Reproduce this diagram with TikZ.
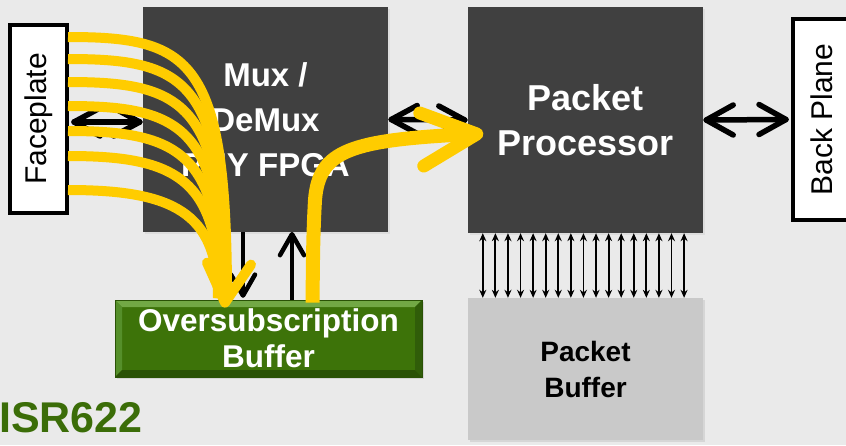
\documentclass[tikz,border=0pt]{standalone}
\usepackage{fontspec}
\setmainfont{Liberation Sans}
\usetikzlibrary{arrows.meta,shadows,calc}

\definecolor{bg}{HTML}{EAEAEA}
\definecolor{chipgray}{HTML}{404040}
\definecolor{bufgray}{HTML}{C9C9C9}
\definecolor{gface}{HTML}{3D7309}
\definecolor{gtop}{HTML}{72A845}
\definecolor{gleft}{HTML}{558F2A}
\definecolor{gright}{HTML}{305D09}
\definecolor{gbot}{HTML}{2A5206}
\definecolor{isrgreen}{HTML}{3B6D08}
\definecolor{flow}{HTML}{FFCC00}

\begin{document}
\begin{tikzpicture}[x=1pt,y=-1pt,
  port/.style={draw=black, line width=4pt, fill=white, inner sep=0pt,
    font=\fontsize{30}{36}\selectfont},
  chip/.style={fill=chipgray, text=white, inner sep=0pt, align=center,
    font=\fontsize{33}{45}\selectfont\bfseries,
    drop shadow={shadow xshift=2pt, shadow yshift=-2pt, opacity=0.12}},
  membuf/.style={fill=bufgray, text=black, inner sep=0pt, align=center,
    font=\fontsize{28}{36}\selectfont\bfseries,
    drop shadow={shadow xshift=1.5pt, shadow yshift=-2pt, opacity=0.18}},
  bevel/.style={fill=gface, draw=gbot, line width=0.8pt, text=white,
    inner sep=0pt, align=center, font=\fontsize{31.5}{36}\selectfont\bfseries,
    drop shadow={shadow xshift=1.5pt, shadow yshift=-2pt, opacity=0.2},
    path picture={
      \fill[gtop] (path picture bounding box.north west) -- (path picture bounding box.north east)
        -- ([shift={(-7,7)}]path picture bounding box.north east) -- ([shift={(7,7)}]path picture bounding box.north west) -- cycle;
      \fill[gleft] (path picture bounding box.north west) -- ([shift={(7,7)}]path picture bounding box.north west)
        -- ([shift={(7,-7)}]path picture bounding box.south west) -- (path picture bounding box.south west) -- cycle;
      \fill[gright] (path picture bounding box.north east) -- ([shift={(-7,7)}]path picture bounding box.north east)
        -- ([shift={(-7,-7)}]path picture bounding box.south east) -- (path picture bounding box.south east) -- cycle;
      \fill[gbot] (path picture bounding box.south west) -- ([shift={(7,-7)}]path picture bounding box.south west)
        -- ([shift={(-7,-7)}]path picture bounding box.south east) -- (path picture bounding box.south east) -- cycle;
    }},
  link/.style={line width=5.5pt, line cap=round, line join=round},
  tap/.style={line width=4.5pt, line cap=round, line join=round},
  lane/.style={line width=1.8pt, {Stealth[length=8pt,width=7pt]}-{Stealth[length=8pt,width=7pt]}},
  flowthin/.style={draw=flow, line width=10pt},
  flowthick/.style={draw=flow, line width=14pt},
  chevron/.style={draw=flow, line cap=round, line join=round}
]
% canvas
\fill[bg] (0,0) rectangle (846,445);
\useasboundingbox (0,0) rectangle (846,445);

% blocks
\node[port, minimum width=57pt, minimum height=188pt] (fp) at (38.5,119) {\rotatebox{90}{Faceplate}};
\node[port, minimum width=58pt, minimum height=201pt] (bp) at (822,119.5) {\rotatebox{90}{Back Plane}};
\node[chip, minimum width=245pt, minimum height=225pt] (mux) at (265.5,119.5) {Mux /\\DeMux\\PHY FPGA};
\node[chip, minimum width=235pt, minimum height=226pt, font=\fontsize{36}{45}\selectfont\bfseries] (pp) at (585.5,120) {Packet\\Processor};
\node[membuf, minimum width=235pt, minimum height=142pt] (pb) at (585.5,369) {Packet\\Buffer};
\node[bevel, minimum width=307pt, minimum height=77pt] (osb) at (268.5,338.5) {Oversubscription\\Buffer};
\node[anchor=base west, inner sep=0pt, text=isrgreen, font=\fontsize{43}{50}\selectfont\bfseries] (model) at (-1,432) {ISR622};

% black two-way links with open chevron heads
\coordinate (fpA) at ($(fp.east)+(5,3)$);
\coordinate (fpB) at ($(mux.west)+(-3,2.5)$);
\draw[link] (fpA) -- (fpB);
\draw[link] ($(fpA)+(26,-14)$) -- (fpA) -- ($(fpA)+(26,14)$);
\draw[link] ($(fpB)+(-26,-14)$) -- (fpB) -- ($(fpB)+(-26,14)$);

\coordinate (mxA) at ($(mux.east)+(3,0)$);
\coordinate (mxB) at ($(pp.west)+(-3,0)$);
\draw[link] (mxA) -- (mxB);
\draw[link] ($(mxA)+(26,-14)$) -- (mxA) -- ($(mxA)+(26,14)$);
\draw[link] ($(mxB)+(-26,-14)$) -- (mxB) -- ($(mxB)+(-26,14)$);

\coordinate (ppA) at ($(pp.east)+(3,0)$);
\coordinate (ppB) at ($(bp.west)+(-5,0)$);
\draw[link] (ppA) -- (ppB);
\draw[link] ($(ppA)+(27,-15)$) -- (ppA) -- ($(ppA)+(27,15)$);
\draw[link] ($(ppB)+(-27,-15)$) -- (ppB) -- ($(ppB)+(-27,15)$);

% mux <-> oversubscription buffer
\coordinate (dnA) at ($(mux.south)+(-22.5,0)$);
\coordinate (dnB) at ($(osb.north)+(-25.5,-4)$);
\draw[tap, line cap=butt] (dnA) -- (dnB);
\draw[tap] ($(dnB)+(-12,-21)$) -- (dnB) -- ($(dnB)+(12,-21)$);
\coordinate (upA) at ($(osb.north)+(23.5,0)$);
\coordinate (upB) at ($(mux.south)+(26.5,2)$);
\draw[tap, line cap=butt] (upA) -- (upB);
\draw[tap] ($(upB)+(-12,21)$) -- (upB) -- ($(upB)+(12,21)$);

% memory lanes
\foreach \i in {0,...,16}
  \draw[lane] ([xshift={15+\i*12.58}]pp.south west) -- ([xshift={15+\i*12.58}]pb.north west);

% yellow flows: faceplate ports into the oversubscription buffer
\foreach \k/\y in {0/37,1/59,2/82,3/106,4/131,5/156,6/190} {
  \pgfmathsetmacro\px{192-3.3*\k}
  \pgfmathsetmacro\ex{227-1.5*\k}
  \coordinate (in\k) at ($(fp.east)+(-1,\y-119)$);
  \draw[flowthin] (in\k) .. controls (\px,\y) and (\ex,\y+22) .. (\ex,298);
}
\coordinate (sink) at ($(osb.north)+(-43.5,3)$);
\draw[chevron, line width=10pt] ($(sink)+(-18,-40)$) -- (sink) -- ($(sink)+(26,-38)$);

% yellow flow: buffer out to the packet processor
\coordinate (src) at ($(osb.north)+(44,3)$);
\coordinate (dst) at ($(pp.west)+(9,14)$);
\draw[flowthick] (src) .. controls (313,260) and (313,235) .. (315,200)
  .. controls (319,150) and (350,140) .. ($(dst)+(-5,0)$);
\draw[chevron, line width=13pt] ($(dst)+(-57,-21)$) -- (dst) -- ($(dst)+(-53,32)$);
\end{tikzpicture}
\end{document}
